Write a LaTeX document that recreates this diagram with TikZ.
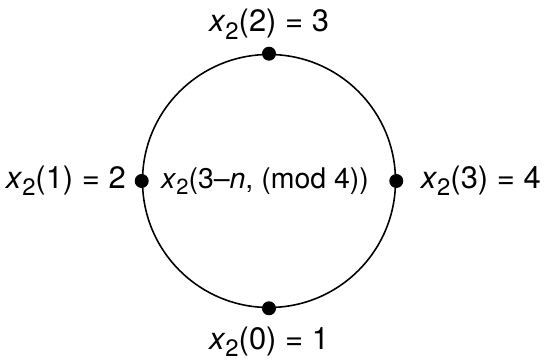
\documentclass[tikz,border=0pt]{standalone}
\usepackage{fontspec}
\setmainfont{TeX Gyre Heros}
\usetikzlibrary{positioning}
\newcommand{\xtwo}{\textit{x}\raisebox{-0.45ex}{\fontsize{0.77em}{1em}\selectfont 2}}
\tikzset{
  dot/.style={circle,fill=black,inner sep=0pt,minimum size=0.28cm},
  ring/.style={circle,draw=black,line width=0.9pt,minimum size=5.06cm,inner sep=0pt},
  lbl/.style={font=\fontsize{17.6}{21}\selectfont,inner sep=1pt},
  midlbl/.style={lbl,font=\fontsize{16.2}{19}\selectfont},
}

\begin{document}
\begin{tikzpicture}
\useasboundingbox (-5.38,-3.66) rectangle (5.50,3.62);
\node[ring] (c) at (0,0) {};
\node[dot] (d0) at (c.south) {};
\node[dot] (d1) at (c.west) {};
\node[dot] (d2) at (c.north) {};
\node[dot] (d3) at (c.east) {};
\node[lbl,below=0.18cm of d0] (l0) {\xtwo(0) = 1};
\node[lbl,left=0.13cm of d1] (l1) {\xtwo(1) = 2};
\node[lbl,above=0.1cm of d2] (l2) {\xtwo(2) = 3};
\node[lbl,right=0.3cm of d3] (l3) {\xtwo(3) = 4};
\node[midlbl,right=0.2cm of d1] (mid) {\xtwo(3\textendash\textit{n}, (mod 4))};
\end{tikzpicture}
\end{document}
